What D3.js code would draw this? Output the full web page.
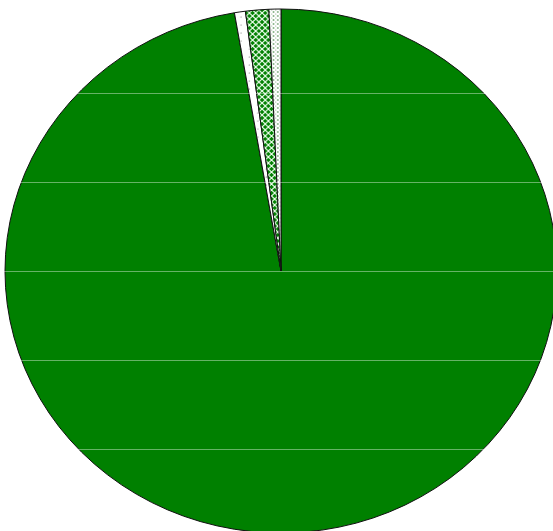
<!DOCTYPE html>
<html>
<head>
<meta charset="utf-8">
<script src="https://cdn.jsdelivr.net/npm/d3@7"></script>
<style>
  html, body { margin: 0; padding: 0; background: #fff; }
  svg { display: block; }
</style>
</head>
<body>
<div id="chart"></div>
<script>
// slices, clockwise from 12 o'clock
const categories = ['A', 'B', 'C', 'D'];
const values = [97.3, 0.64, 1.36, 0.7];
const fills = ['green', 'plain', 'hatch', 'dots'];
// background grid lines behind / across the pie
const gridTicks = [-2, -1, 0, 1, 2];

const width = 553, height = 531;
const cx = 281, cy = 271;
const ry = 262, rx = 276;

const svg = d3.select('#chart').append('svg')
  .attr('width', width)
  .attr('height', height);

const defs = svg.append('defs');

// crosshatch: green with light diamond lattice
const hatch = defs.append('pattern')
  .attr('id', 'hatch')
  .attr('patternUnits', 'userSpaceOnUse')
  .attr('width', 6).attr('height', 6);
hatch.append('rect').attr('width', 6).attr('height', 6).attr('fill', '#008000');
hatch.append('path')
  .attr('d', 'M0,0 L6,6 M6,0 L0,6')
  .attr('stroke', '#f2fff2').attr('stroke-width', 1.1);

// white with green dots
const dots = defs.append('pattern')
  .attr('id', 'dots')
  .attr('patternUnits', 'userSpaceOnUse')
  .attr('width', 4).attr('height', 4);
dots.append('rect').attr('width', 4).attr('height', 4).attr('fill', '#fff');
dots.append('circle').attr('cx', 1).attr('cy', 1).attr('r', 0.8).attr('fill', '#2f7a2f');
dots.append('circle').attr('cx', 3).attr('cy', 3).attr('r', 0.6).attr('fill', '#8fb08f');

// mostly white with sparse dots
const plain = defs.append('pattern')
  .attr('id', 'plain')
  .attr('patternUnits', 'userSpaceOnUse')
  .attr('width', 8).attr('height', 8);
plain.append('rect').attr('width', 8).attr('height', 8).attr('fill', '#fff');
plain.append('circle').attr('cx', 2).attr('cy', 2).attr('r', 0.6).attr('fill', '#777');

function fillOf(f) {
  if (f === 'green') return '#008000';
  return 'url(#' + f + ')';
}

const data = categories.map((c, i) => ({ cat: c, value: values[i], fill: fills[i] }));

const pie = d3.pie().sort(null).value(d => d.value);
const arc = d3.arc().innerRadius(0).outerRadius(ry);

const g = svg.append('g')
  .attr('transform', 'translate(' + cx + ',' + cy + ') scale(' + (rx / ry) + ',1)');

g.selectAll('path.slice')
  .data(pie(data))
  .enter()
  .append('path')
  .attr('class', 'slice')
  .attr('d', arc)
  .attr('fill', d => fillOf(d.data.fill))
  .attr('stroke', '#111')
  .attr('stroke-width', 1)
  .attr('vector-effect', 'non-scaling-stroke');

// grid lines showing over the pie
const y = d3.scaleLinear().domain([-2, 2]).range([cy - 178, cy + 178]);

svg.append('g')
  .selectAll('line')
  .data(gridTicks)
  .enter()
  .append('line')
  .attr('x1', 0)
  .attr('x2', width)
  .attr('y1', d => Math.round(y(d)) + 0.5)
  .attr('y2', d => Math.round(y(d)) + 0.5)
  .attr('stroke', '#fff')
  .attr('stroke-opacity', 0.4)
  .attr('stroke-width', 1);
</script>
</body>
</html>
